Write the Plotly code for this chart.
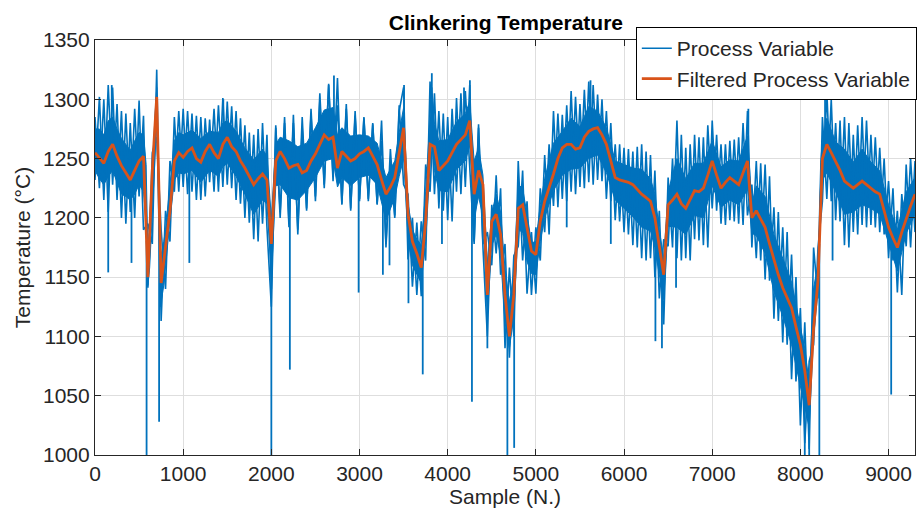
import numpy as np
import plotly.graph_objects as go

# ---- data ----
# raw signal, one value every 50 samples (alternating local peaks / troughs)
samples = list(range(0, 9301, 50))

process_variable = [
    # 0 - 950
    1285, 1225, 1300, 1205, 1310, 1215, 1290, 1195, 1280, 1200, 1299, 1190, 1195, 1178, 1325, 1113, 1206, 1180, 1285, 1222,
    # 1000 - 1950
    1292, 1220, 1288, 1215, 1285, 1218, 1283, 1222, 1295, 1226, 1298, 1225, 1290, 1212, 1278, 1196, 1270, 1180, 1280, 1192,
    # 2000 - 2950
    1125, 1276, 1200, 1280, 1192, 1287, 1186, 1276, 1206, 1287, 1214, 1299, 1225, 1313, 1231, 1318, 1211, 1296, 1206, 1290,
    # 3000 - 3950
    1214, 1285, 1214, 1279, 1211, 1282, 1175, 1248, 1200, 1290, 1310, 1165, 1200, 1135, 1197, 1164, 1315, 1220, 1290, 1206,
    # 4000 - 4950
    1285, 1197, 1301, 1220, 1307, 1240, 1178, 1279, 1175, 1100, 1211, 1170, 1225, 1090, 1158, 1100, 1248, 1164, 1214, 1135,
    # 5000 - 5950
    1192, 1164, 1253, 1186, 1290, 1209, 1287, 1214, 1307, 1220, 1296, 1225, 1315, 1228, 1304, 1231, 1290, 1214, 1262, 1197,
    # 6000 - 6950
    1259, 1186, 1256, 1175, 1262, 1164, 1253, 1150, 1206, 1110, 1234, 1175, 1282, 1164, 1259, 1164, 1270, 1181, 1268, 1175,
    # 7000 - 7950
    1282, 1206, 1262, 1194, 1265, 1197, 1268, 1194, 1290, 1175, 1248, 1164, 1245, 1147, 1209, 1113, 1192, 1093, 1169, 1062,
    # 8000 - 9300
    1124, 1010, 1079, 1093, 1175, 1214, 1307, 1214, 1280, 1197, 1285, 1175, 1270, 1186, 1285, 1192, 1270, 1192, 1259, 1186,
    1231, 1164, 1206, 1135, 1245, 1175, 1248,
]

# second set of peaks / troughs of the raw signal (opposite phase on the same grid)
process_variable_b = [
    # 0 - 950
    1232, 1302, 1215, 1312, 1228, 1296, 1200, 1288, 1205, 1292, 1218, 1286, 1141, 1255, 1268, 1190, 1140, 1248, 1222, 1290,
    # 1000 - 1950
    1226, 1290, 1222, 1286, 1215, 1284, 1230, 1292, 1222, 1301, 1228, 1294, 1215, 1284, 1200, 1272, 1182, 1275, 1195, 1270,
    # 2000 - 2950
    1140, 1278, 1205, 1285, 1195, 1280, 1190, 1285, 1208, 1292, 1218, 1305, 1228, 1312, 1235, 1295, 1212, 1292, 1208, 1286,
    # 3000 - 3950
    1216, 1284, 1216, 1280, 1212, 1265, 1178, 1258, 1202, 1295, 1228, 1220, 1142, 1196, 1134, 1245, 1222, 1305, 1208, 1288,
    # 4000 - 4950
    1198, 1292, 1222, 1305, 1226, 1312, 1180, 1276, 1178, 1188, 1160, 1236, 1152, 1178, 1082, 1168, 1176, 1240, 1136, 1188,
    # 5000 - 5950
    1136, 1225, 1188, 1262, 1210, 1288, 1216, 1295, 1222, 1302, 1226, 1308, 1230, 1312, 1232, 1300, 1216, 1280, 1198, 1262,
    # 6000 - 6950
    1188, 1258, 1177, 1260, 1166, 1256, 1166, 1240, 1132, 1182, 1176, 1250, 1166, 1270, 1166, 1262, 1182, 1268, 1177, 1278,
    # 7000 - 7950
    1208, 1270, 1195, 1262, 1198, 1266, 1195, 1280, 1202, 1228, 1166, 1246, 1148, 1235, 1115, 1205, 1095, 1188, 1064, 1150,
    # 8000 - 9300
    1025, 1112, 1005, 1175, 1132, 1285, 1216, 1300, 1198, 1282, 1177, 1280, 1188, 1278, 1194, 1282, 1194, 1268, 1188, 1250,
    1166, 1225, 1137, 1220, 1176, 1250, 1188,
]

filtered_pv = [
    # 0 - 950
    1255, 1250, 1246, 1256, 1262, 1252, 1244, 1238, 1232, 1240, 1248, 1252, 1150, 1240, 1302, 1145, 1175, 1206, 1248, 1255,
    # 1000 - 1950
    1251, 1256, 1259, 1250, 1247, 1256, 1262, 1255, 1250, 1262, 1268, 1260, 1256, 1248, 1242, 1235, 1228, 1233, 1237, 1232,
    # 2000 - 2950
    1178, 1248, 1256, 1250, 1242, 1244, 1245, 1238, 1240, 1248, 1254, 1262, 1270, 1266, 1268, 1242, 1256, 1252, 1248, 1250,
    # 3000 - 3950
    1254, 1256, 1259, 1252, 1245, 1232, 1220, 1226, 1234, 1255, 1276, 1203, 1180, 1170, 1158, 1197, 1262, 1260, 1240, 1244,
    # 4000 - 4950
    1248, 1255, 1262, 1266, 1270, 1282, 1220, 1240, 1228, 1135, 1197, 1203, 1186, 1135, 1100, 1135, 1208, 1211, 1192, 1172,
    # 5000 - 5950
    1169, 1197, 1214, 1225, 1237, 1250, 1259, 1262, 1262, 1258, 1259, 1268, 1273, 1275, 1276, 1270, 1262, 1248, 1234, 1232,
    # 6000 - 6950
    1231, 1230, 1228, 1224, 1220, 1217, 1214, 1200, 1175, 1152, 1211, 1215, 1220, 1212, 1208, 1215, 1223, 1222, 1225, 1236,
    # 7000 - 7950
    1248, 1236, 1225, 1230, 1234, 1231, 1228, 1238, 1248, 1200, 1206, 1199, 1192, 1178, 1164, 1152, 1141, 1132, 1124, 1108,
    # 8000 - 9300
    1093, 1071, 1042, 1107, 1147, 1250, 1262, 1255, 1248, 1240, 1231, 1228, 1225, 1228, 1231, 1228, 1225, 1222, 1220, 1205,
    1192, 1183, 1175, 1188, 1200, 1210, 1220,
]

# dense core of the raw signal (where the blue trace is solid)
core_samples = [0, 50, 100, 150, 200, 250, 300, 350, 400, 450, 500, 550, 580, 600, 620, 650, 680, 700, 720, 740,
                780, 800, 850, 900, 950, 1000, 1100, 1200, 1300, 1400, 1450, 1500, 1600, 1700, 1800, 1900, 1950,
                2000, 2050, 2100, 2200, 2300, 2400, 2500, 2600, 2700, 2750, 2800, 2900, 3000, 3100, 3200, 3300,
                3400, 3450, 3500, 3550, 3600, 3650, 3700, 3750, 3800, 3820, 3850, 3900, 4000, 4100, 4200, 4250,
                4300, 4350, 4400, 4450, 4500, 4550, 4600, 4650, 4700, 4750, 4800, 4850, 4900, 4950, 5000, 5050,
                5100, 5200, 5300, 5400, 5500, 5600, 5700, 5800, 5900, 6000, 6100, 6200, 6300, 6350, 6400, 6450,
                6500, 6600, 6700, 6800, 6900, 7000, 7100, 7200, 7300, 7400, 7450, 7500, 7600, 7700, 7800, 7900,
                8000, 8050, 8100, 8150, 8200, 8230, 8250, 8300, 8400, 8500, 8600, 8700, 8800, 8900, 9000, 9100,
                9200, 9300]
core_upper = [1275, 1275, 1270, 1282, 1285, 1275, 1267, 1262, 1257, 1265, 1272, 1270, 1245, 1170, 1200, 1250, 1285, 1310, 1250, 1165,
              1180, 1190, 1228, 1265, 1272, 1270, 1274, 1267, 1273, 1272, 1280, 1282, 1273, 1259, 1249, 1258, 1252,
              1200, 1262, 1268, 1265, 1260, 1263, 1276, 1291, 1293, 1270, 1276, 1269, 1270, 1269, 1263, 1234,
              1248, 1272, 1293, 1212, 1190, 1182, 1177, 1222, 1288, 1310, 1280, 1265, 1266, 1281, 1288, 1298,
              1248, 1259, 1236, 1162, 1204, 1220, 1205, 1157, 1129, 1152, 1228, 1225, 1203, 1179, 1180, 1211,
              1233, 1263, 1273, 1284, 1277, 1294, 1290, 1276, 1248, 1245, 1242, 1241, 1233, 1220, 1190, 1166,
              1222, 1250, 1233, 1246, 1246, 1265, 1243, 1249, 1248, 1269, 1212, 1227, 1218, 1186, 1166, 1146,
              1108, 1090, 1060, 1141, 1161, 1247, 1266, 1284, 1264, 1258, 1247, 1258, 1247, 1240, 1211, 1190,
              1222, 1234]
core_lower = [1240, 1233, 1228, 1235, 1240, 1230, 1220, 1218, 1215, 1220, 1228, 1222, 1195, 1143, 1158, 1205, 1250, 1280, 1205, 1125,
              1143, 1155, 1198, 1232, 1238, 1237, 1240, 1230, 1240, 1235, 1243, 1246, 1235, 1220, 1203, 1215, 1212,
              1150, 1227, 1228, 1217, 1215, 1223, 1234, 1248, 1250, 1226, 1234, 1227, 1234, 1236, 1228, 1198,
              1217, 1235, 1250, 1184, 1160, 1152, 1145, 1180, 1241, 1270, 1240, 1223, 1222, 1241, 1248, 1261,
              1199, 1218, 1201, 1118, 1177, 1186, 1168, 1112, 1090, 1117, 1191, 1187, 1163, 1153, 1152, 1180,
              1200, 1223, 1236, 1241, 1242, 1250, 1253, 1238, 1215, 1208, 1201, 1192, 1189, 1175, 1152, 1131,
              1193, 1192, 1186, 1202, 1200, 1227, 1209, 1215, 1211, 1224, 1187, 1185, 1170, 1138, 1117, 1093,
              1058, 1040, 1023, 1100, 1138, 1212, 1232, 1238, 1222, 1203, 1205, 1211, 1208, 1203, 1178, 1155,
              1187, 1203]

# isolated single-sample excursions of the raw signal
spike_samples = [150, 414, 585, 727, 1070, 2000, 2210, 2990, 3265, 3340, 3555, 3717, 3935, 4275, 4450,
                 4677, 4754, 5350, 5850, 6356, 6430, 6590, 8050, 8100, 8215, 8365, 9030,
                 190, 1455, 2710, 3505, 3820, 4185, 4252, 5620, 7410, 8280]
spike_values = [1154, 1162, 1000, 1028, 1162, 1000, 1072, 1137, 1152, 1160, 1128, 1068, 1178, 1045, 1090,
                1000, 1006, 1192, 1178, 1096, 1090, 1141, 1000, 1000, 1000, 1164, 1051,
                1312, 1300, 1320, 1312, 1322, 1310, 1316, 1316, 1292, 1307]

x_ticks = [0, 1000, 2000, 3000, 4000, 5000, 6000, 7000, 8000, 9000]
y_ticks = [1000, 1050, 1100, 1150, 1200, 1250, 1300, 1350]

BLUE = "#0072BD"
ORANGE = "#D95319"
TXT = "#262626"
FONT = "Liberation Sans, Arial, sans-serif"

s = np.array(samples, dtype=float)
f = np.array(filtered_pv, dtype=float)

fig = go.Figure()

# solid core of the raw signal
fig.add_trace(go.Scatter(
    x=core_samples + core_samples[::-1], y=core_upper + core_lower[::-1],
    fill="toself", fillcolor=BLUE, mode="lines", line=dict(color=BLUE, width=1),
    showlegend=False, hoverinfo="skip"))

# raw signal excursions
fig.add_trace(go.Scatter(x=samples, y=process_variable, mode="lines",
                         line=dict(color=BLUE, width=1.6), name="Process Variable"))
fig.add_trace(go.Scatter(x=samples, y=process_variable_b, mode="lines",
                         line=dict(color=BLUE, width=1.6), showlegend=False, hoverinfo="skip"))

sx, sy = [], []
for xv, yv in zip(spike_samples, spike_values):
    base = float(np.interp(xv, s, f))
    sx += [xv, xv, None]
    sy += [base, yv, None]
fig.add_trace(go.Scatter(x=sx, y=sy, mode="lines", line=dict(color=BLUE, width=1.8),
                         showlegend=False, hoverinfo="skip"))

fig.add_trace(go.Scatter(x=samples, y=filtered_pv, mode="lines",
                         line=dict(color=ORANGE, width=2.8), name="Filtered Process Variable"))

axis_common = dict(
    showline=True, mirror="ticks", linecolor=TXT, linewidth=1.2,
    ticks="inside", ticklen=6, tickcolor=TXT, tickwidth=1.2,
    showgrid=True, gridcolor="#dedede", gridwidth=1, zeroline=False,
    tickfont=dict(family=FONT, size=21, color=TXT),
)

fig.update_layout(
    width=919, height=517,
    margin=dict(l=95, r=3, t=40, b=62),
    paper_bgcolor="white", plot_bgcolor="white",
    font=dict(family=FONT, color=TXT),
    title=dict(text="<b>Clinkering Temperature</b>", x=0.5505, xanchor="center",
               y=0.957, yanchor="middle", font=dict(family=FONT, size=21, color="black")),
    xaxis=dict(range=[0, 9300], tickvals=x_ticks,
               title=dict(text="Sample (N.)", font=dict(family=FONT, size=21, color=TXT), standoff=4),
               **axis_common),
    yaxis=dict(range=[1000, 1350], tickvals=y_ticks,
               title=dict(text="Temperature (°C)", font=dict(family=FONT, size=21, color=TXT), standoff=6),
               **axis_common),
    legend=dict(x=1.001, y=1.031, xanchor="right", yanchor="top",
                bgcolor="white", bordercolor="black", borderwidth=1,
                font=dict(family=FONT, size=21, color=TXT),
                tracegroupgap=0, itemwidth=30),
    showlegend=True,
)

fig.write_html("out.html")
